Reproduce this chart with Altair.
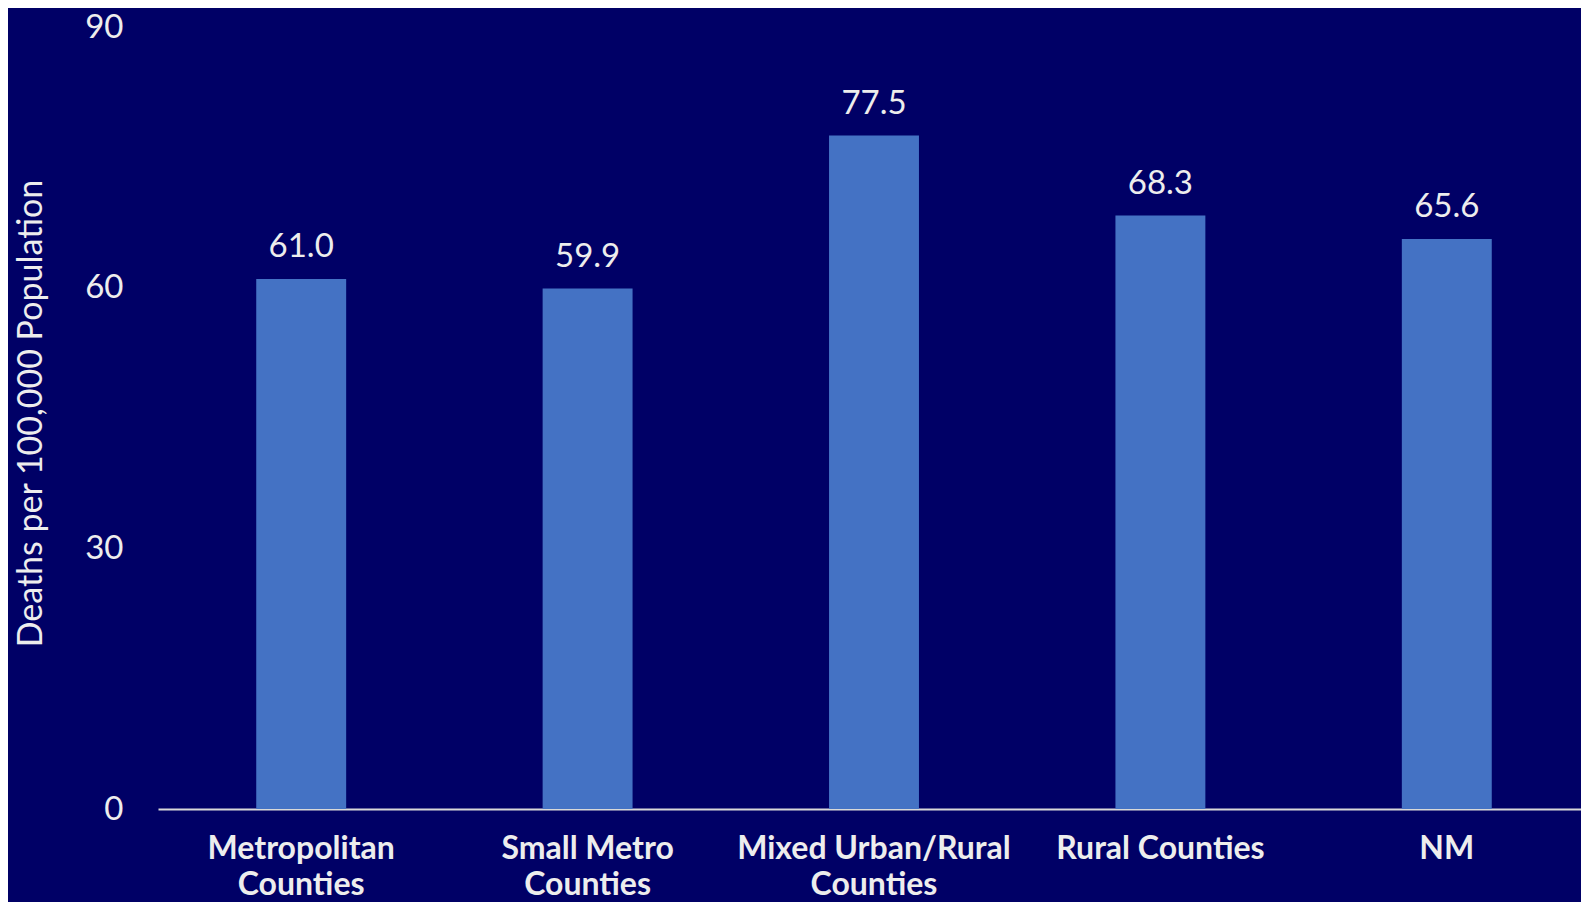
import altair as alt
import pandas as pd

categories = ["Metropolitan\nCounties", "Small Metro\nCounties", "Mixed Urban/Rural\nCounties", "Rural Counties", "NM"]
values = [61.0, 59.9, 77.5, 68.3, 65.6]
y_ticks = [0, 30, 60, 90]

df = pd.DataFrame({"cat": categories, "val": values})
df["lbl"] = df["val"].map(lambda v: f"{v:.1f}")

FONT = "Lato"
TXT = "#EDEDED"

x = alt.X("cat:N", sort=categories, title=None,
          scale=alt.Scale(paddingInner=0.686, paddingOuter=0.343, range=[0, 1432]),
          axis=alt.Axis(labelAngle=0, labelFont=FONT, labelFontSize=32, labelFontWeight="bold",
                        labelColor=TXT, labelPadding=24, labelLineHeight=36, labelBaseline="top",
                        labelLimit=500, labelExpr="split(datum.label, '\\n')", ticks=False,
                        domainColor="#D9D9D9", domainWidth=2))
y = alt.Y("val:Q", scale=alt.Scale(domain=[0, 90], nice=False),
          axis=alt.Axis(values=y_ticks, title="Deaths per 100,000 Population", grid=False, domain=False,
                        ticks=False, labelPadding=35, labelFont=FONT, labelFontSize=33, labelColor=TXT,
                        titleFont=FONT, titleFontSize=34, titleFontWeight="normal", titleColor=TXT,
                        titleAngle=270, titleX=-127, titleY=386, titleAlign="center", titleBaseline="middle"))

bars = alt.Chart(df).mark_bar(color="#4472C4").encode(x=x, y=y)
text = alt.Chart(df).mark_text(font=FONT, fontSize=33, color=TXT, baseline="alphabetic", dy=-22).encode(
    x=alt.X("cat:N", sort=categories), y="val:Q", text="lbl:N")

chart = (bars + text).properties(
    width=1423, height=782,
    autosize=alt.AutoSizeParams(type="none"),
    padding={"left": 150, "top": 19, "right": 0, "bottom": 93},
    background="#000066",
).configure_view(strokeWidth=0)

chart.save("out.html", embed_options={"renderer": "svg", "actions": False})
